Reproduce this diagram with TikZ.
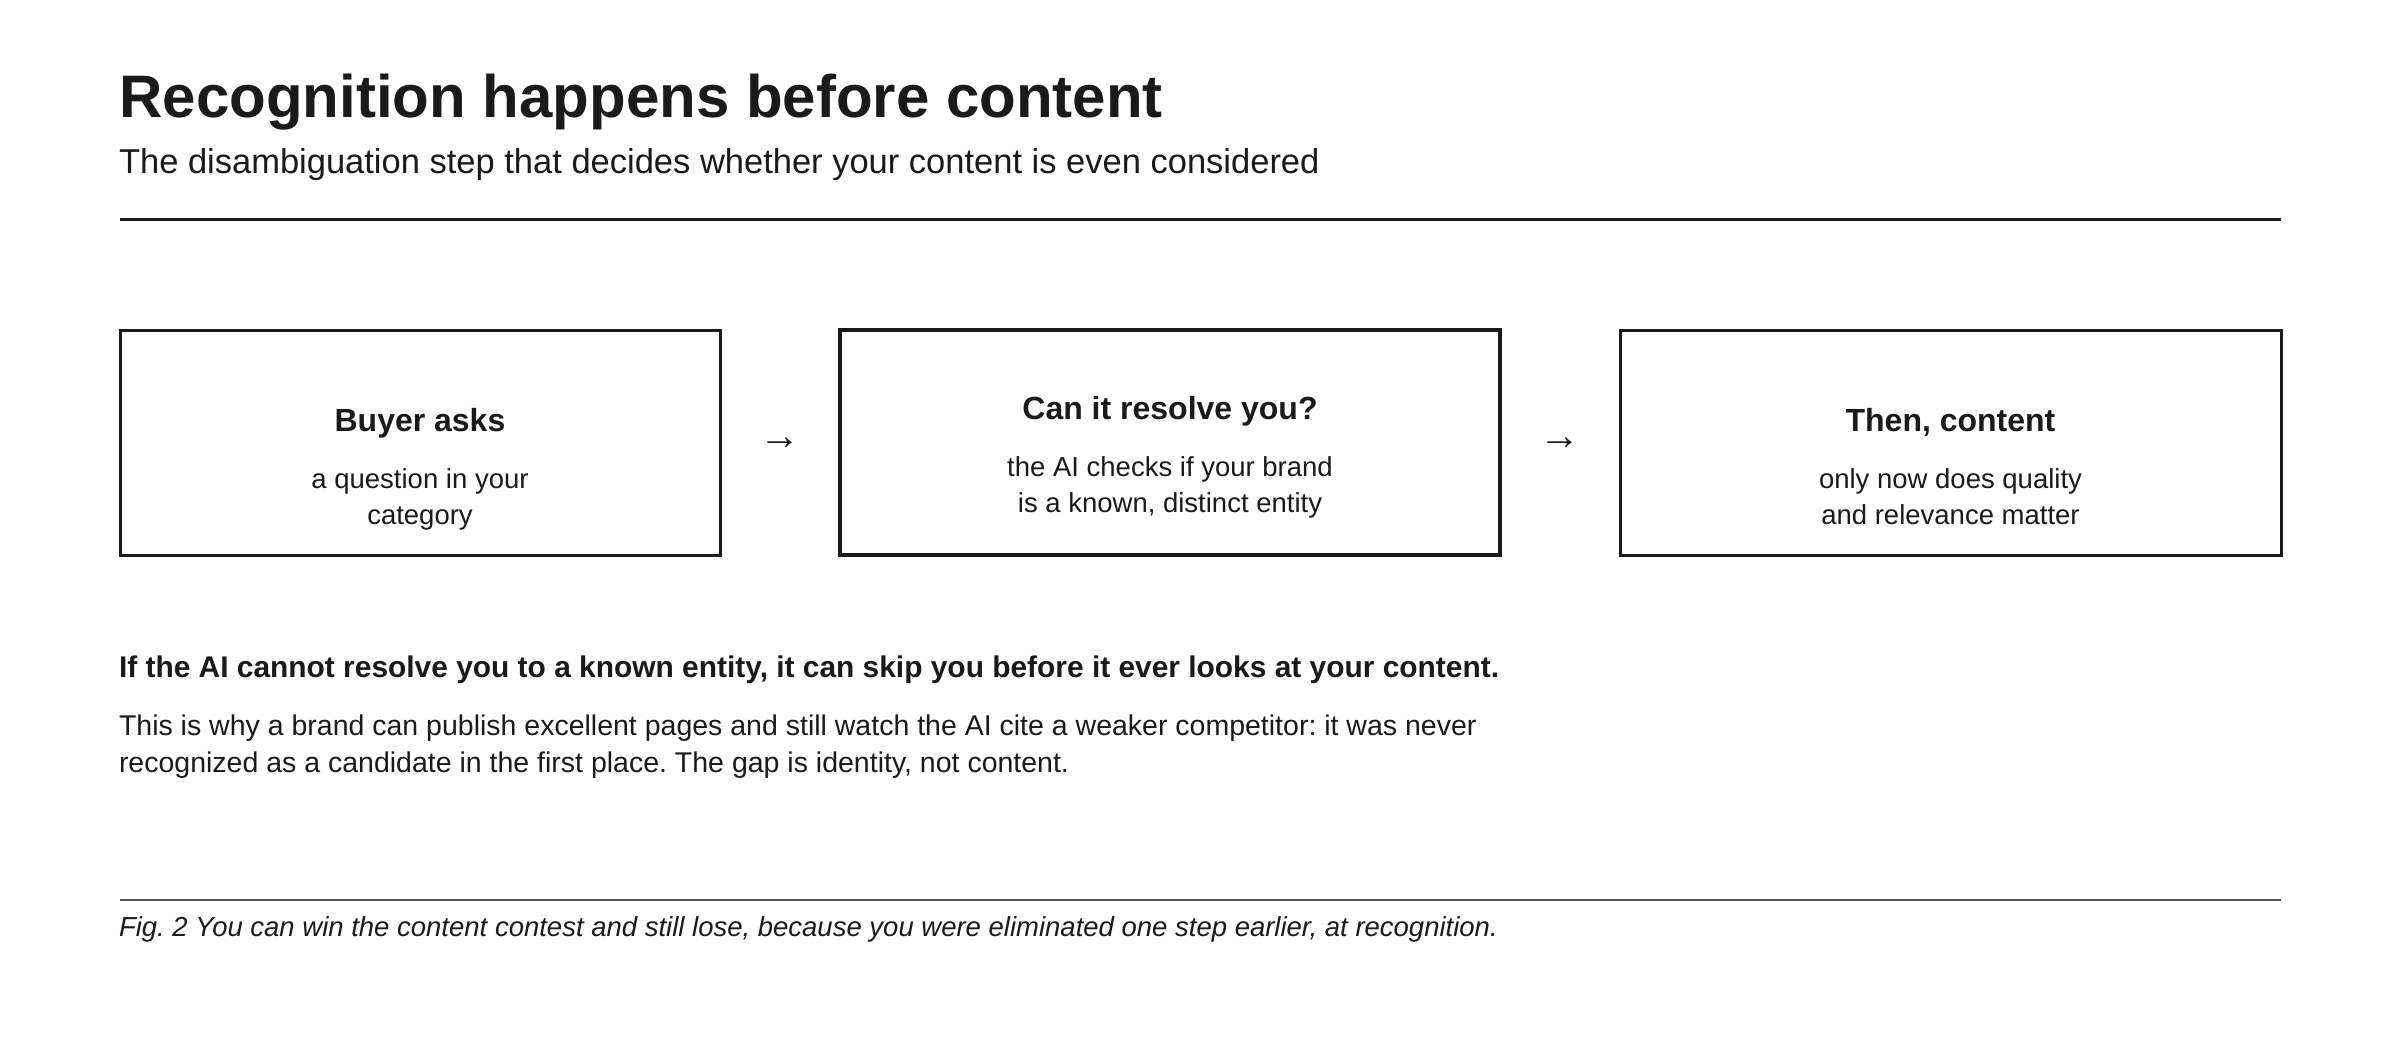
\documentclass[tikz,border=0pt]{standalone}
\usepackage{fontspec}
\setmainfont{Liberation Sans}
\usetikzlibrary{calc}
\definecolor{ink}{HTML}{1A1A1A}
\definecolor{rulegray}{HTML}{555555}
\frenchspacing
\begin{document}
\begin{tikzpicture}[x=0.5pt,y=-0.5pt,
  txt/.style={inner sep=0pt, outer sep=0pt, text=ink},
  titlefont/.style={font=\fontsize{30}{36}\selectfont\bfseries},
  subfont/.style={font=\fontsize{17.25}{20}\selectfont},
  headfont/.style={font=\fontsize{16}{19}\selectfont\bfseries},
  bodyfont/.style={font=\fontsize{13.75}{17}\selectfont},
  leadfont/.style={font=\fontsize{14.95}{18}\selectfont\bfseries},
  parafont/.style={font=\fontsize{14.25}{18}\selectfont},
  capfont/.style={font=\fontsize{13.75}{17}\selectfont\itshape},
  arrowglyph/.style={inner sep=0pt, outer sep=0pt, text=ink, font=\fontsize{20.5}{22}\selectfont},
  stepbox/.style={draw=ink, line width=1.5pt, minimum height=112.5pt, inner sep=0pt, fill=white},
  keybox/.style={stepbox, line width=2.25pt}
]
\useasboundingbox[fill=white] (0,0) rectangle (2400,1050);

% header
\node[txt, titlefont, anchor=base west] (title) at (119.5,117.5) {Recognition happens before content};
\node[txt, subfont, anchor=base west] (subtitle) at (119,173) {The disambiguation step that decides whether your content is even considered};
\coordinate (r1a) at (120,219);
\coordinate (r1b) at (2281,219);
\draw[ink, line width=1.5pt] (r1a) -- (r1b);

% boxes
\node[stepbox, minimum width=300pt] (b1) at (420,442.5) {};
\node[keybox, minimum width=330pt] (b2) at (1170,442.5) {};
\node[stepbox, minimum width=330.5pt] (b3) at (1950.5,442.5) {};

% box texts
\node[txt, headfont, anchor=base] (b1t) at (420,431.5) {Buyer asks};
\node[txt, bodyfont, anchor=base] (b1s1) at (420,488.3) {a question in your};
\node[txt, bodyfont, anchor=base] (b1s2) at (420,524.3) {category};

\node[txt, headfont, anchor=base] (b2t) at (1170,419.3) {Can it resolve you?};
\node[txt, bodyfont, anchor=base] (b2s1) at (1170,476) {the AI checks if your brand};
\node[txt, bodyfont, anchor=base] (b2s2) at (1170,512.3) {is a known, distinct entity};

\node[txt, headfont, anchor=base] (b3t) at (1950.5,431) {Then, content};
\node[txt, bodyfont, anchor=base] (b3s1) at (1950.5,488.3) {only now does quality};
\node[txt, bodyfont, anchor=base] (b3s2) at (1950.5,524.5) {and relevance matter};

% arrows between boxes
\node[arrowglyph, anchor=base] (a1) at ($(b1.east)!0.5!(b2.west)+(0,7)$) {→};
\node[arrowglyph, anchor=base] (a2) at ($(b2.east)!0.5!(b3.west)+(0,7)$) {→};

% text block
\node[txt, leadfont, anchor=base west] (lead) at (119,677.3) {If the AI cannot resolve you to a known entity, it can skip you before it ever looks at your content.};
\node[txt, parafont, anchor=base west] (p1) at (119,735) {This is why a brand can publish excellent pages and still watch the AI cite a weaker competitor: it was never};
\node[txt, parafont, anchor=base west] (p2) at (119,772) {recognized as a candidate in the first place. The gap is identity, not content.};

% caption
\coordinate (r2a) at (120,900);
\coordinate (r2b) at (2281,900);
\draw[rulegray, line width=0.8pt] (r2a) -- (r2b);
\node[txt, capfont, anchor=base west] (cap) at (119,936.7) {Fig. 2 You can win the content contest and still lose, because you were eliminated one step earlier, at recognition.};
\end{tikzpicture}
\end{document}
